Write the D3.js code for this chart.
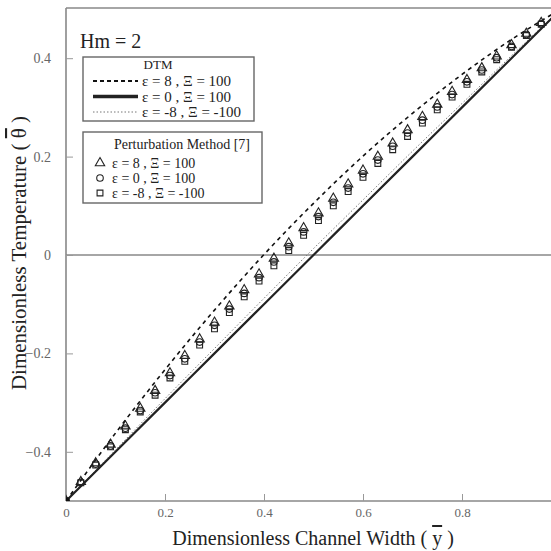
<!DOCTYPE html>
<html>
<head>
<meta charset="utf-8">
<script src="https://cdn.jsdelivr.net/npm/d3@7"></script>
<style>
  body { margin: 0; background: #fff; }
  text { font-family: "Liberation Serif", "DejaVu Serif", serif; fill: #222; }
</style>
</head>
<body>
<div id="chart"></div>
<script>
// DTM curves
var dtmX = [0, 0.1, 0.2, 0.3, 0.4, 0.5, 0.6, 0.7, 0.8, 0.9, 1.0];
var dtmPos = [-0.5, -0.362, -0.233, -0.112, 0.001, 0.105, 0.201, 0.288, 0.367, 0.438, 0.5];
var dtmZero = [-0.5, -0.4, -0.3, -0.2, -0.1, 0, 0.1, 0.2, 0.3, 0.4, 0.5];
var dtmNeg = [-0.5, -0.396, -0.292, -0.190, -0.088, 0.013, 0.112, 0.211, 0.308, 0.405, 0.5];

// perturbation method points
var pmX = [0, 0.03, 0.06, 0.09, 0.12, 0.15, 0.18, 0.21, 0.24, 0.27, 0.30, 0.33, 0.36, 0.39, 0.42, 0.45, 0.48,
  0.51, 0.54, 0.57, 0.60, 0.63, 0.66, 0.69, 0.72, 0.75, 0.78, 0.81, 0.84, 0.87, 0.90, 0.93, 0.96, 0.99];
var pmPos = [-0.5, -0.461, -0.423, -0.385, -0.348, -0.312, -0.276, -0.240, -0.205, -0.171, -0.137, -0.104,
  -0.071, -0.039, -0.007, 0.024, 0.055, 0.085, 0.115, 0.144, 0.172, 0.200, 0.227, 0.254, 0.281, 0.306,
  0.332, 0.356, 0.380, 0.404, 0.427, 0.450, 0.472, 0.493];
var pmZero = [-0.5, -0.462, -0.425, -0.388, -0.352, -0.316, -0.280, -0.245, -0.211, -0.177, -0.143, -0.110,
  -0.078, -0.046, -0.014, 0.017, 0.047, 0.078, 0.107, 0.136, 0.165, 0.193, 0.221, 0.248, 0.274, 0.301,
  0.326, 0.352, 0.376, 0.401, 0.424, 0.448, 0.470, 0.493];
var pmNeg = [-0.5, -0.463, -0.427, -0.390, -0.355, -0.319, -0.285, -0.250, -0.216, -0.183, -0.150, -0.117,
  -0.085, -0.053, -0.022, 0.009, 0.040, 0.070, 0.100, 0.129, 0.158, 0.186, 0.214, 0.241, 0.268, 0.295,
  0.321, 0.347, 0.372, 0.397, 0.422, 0.446, 0.469, 0.492];

var xTicks = [0, 0.2, 0.4, 0.6, 0.8];
var yTicks = [-0.4, -0.2, 0, 0.2, 0.4];
var dtmLabels = ["ε = 8 , Ξ = 100", "ε = 0 , Ξ = 100", "ε = -8 , Ξ = -100"];
var pmLabels = ["ε = 8 , Ξ = 100", "ε = 0 , Ξ = 100", "ε = -8 , Ξ = -100"];

var W = 551, H = 551;
var pL = 66, pT = 8, pB = 501, pR = 551;

var svg = d3.select("#chart").append("svg")
  .attr("width", W).attr("height", H);

var x = d3.scaleLinear().domain([0, 1]).range([pL, pL + 495]);
var y = d3.scaleLinear().domain([-0.5, 0.5]).range([pB, pT + 1]);

svg.append("clipPath").attr("id", "plotclip")
  .append("rect").attr("x", pL).attr("y", pT).attr("width", pR - pL).attr("height", pB - pT);

// frame
var frame = svg.append("g").attr("stroke", "#888").attr("stroke-width", 1.6);
frame.append("line").attr("x1", pL).attr("x2", pR).attr("y1", pT).attr("y2", pT);
frame.append("line").attr("x1", pL).attr("x2", pL).attr("y1", pT).attr("y2", pB);
frame.append("line").attr("x1", pL).attr("x2", pR).attr("y1", pB).attr("y2", pB);
frame.append("line").attr("x1", pL).attr("x2", pR).attr("y1", y(0)).attr("y2", y(0));

// axes
var fmt = function (d) { return d === 0 ? "0" : d3.format(".1f")(d); };

var xAxis = d3.axisBottom(x).tickValues(xTicks).tickSize(-7).tickPadding(7).tickFormat(fmt);
var gx = svg.append("g").attr("transform", "translate(0," + pB + ")").call(xAxis);
gx.select(".domain").remove();
gx.selectAll("line").attr("stroke", "#999");
gx.selectAll("text").style("font-size", "13px").style("fill", "#666")
  .style("font-family", "Liberation Serif, serif");

var yAxis = d3.axisLeft(y).tickValues(yTicks).tickSize(-7).tickPadding(15).tickFormat(fmt);
var gy = svg.append("g").attr("transform", "translate(" + pL + ",0)").call(yAxis);
gy.select(".domain").remove();
gy.selectAll("line").attr("stroke", "#999");
gy.selectAll("text").style("font-size", "14px").style("fill", "#666")
  .style("font-family", "Liberation Serif, serif");

// titles
var xt = svg.append("text").attr("x", 313).attr("y", 545).attr("text-anchor", "middle")
  .style("font-size", "20px");
xt.append("tspan").text("Dimensionless Channel Width ( ");
xt.append("tspan").style("text-decoration", "overline").text("y");
xt.append("tspan").text(" )");

var yt = svg.append("text").attr("transform", "translate(26,253) rotate(-90)").attr("text-anchor", "middle")
  .style("font-size", "21px");
yt.append("tspan").text("Dimensionless Temperature ( ");
yt.append("tspan").style("text-decoration", "overline").text("\u03B8");
yt.append("tspan").text(" )");

svg.append("text").attr("x", 80).attr("y", 48).style("font-size", "20px").text("Hm = 2");

// lines
var plot = svg.append("g").attr("clip-path", "url(#plotclip)");
var line = d3.line().curve(d3.curveMonotoneX)
  .x(function (d) { return x(d[0]); })
  .y(function (d) { return y(d[1]); });

plot.append("path").datum(d3.zip(dtmX, dtmNeg))
  .attr("d", line).attr("fill", "none").attr("stroke", "#777").attr("stroke-width", 1)
  .attr("stroke-dasharray", "1.5,2");
plot.append("path").datum(d3.zip(dtmX, dtmZero))
  .attr("d", line).attr("fill", "none").attr("stroke", "#222").attr("stroke-width", 2.2);
plot.append("path").datum(d3.zip(dtmX, dtmPos))
  .attr("d", line).attr("fill", "none").attr("stroke", "#111").attr("stroke-width", 1.6)
  .attr("stroke-dasharray", "4,4");

// markers
var sym = {
  tri: d3.symbol().type(d3.symbolTriangle).size(38),
  cir: d3.symbol().type(d3.symbolCircle).size(34),
  sq: d3.symbol().type(d3.symbolSquare).size(34)
};
var series = [[pmPos, "tri"], [pmZero, "cir"], [pmNeg, "sq"]];
series.forEach(function (s) {
  plot.selectAll(".m-" + s[1])
    .data(d3.zip(pmX, s[0])).enter()
    .append("path")
      .attr("class", "m-" + s[1])
      .attr("d", sym[s[1]])
      .attr("transform", function (d) { return "translate(" + x(d[0]) + "," + y(d[1]) + ")"; })
      .attr("fill", "none").attr("stroke", "#222").attr("stroke-width", 1.1);
});
plot.append("circle").attr("cx", x(0)).attr("cy", y(-0.5)).attr("r", 3.5).attr("fill", "#111");

// legend: DTM
var lg1 = svg.append("g");
lg1.append("rect").attr("x", 83).attr("y", 57).attr("width", 171).attr("height", 64)
  .attr("fill", "#fff").attr("stroke", "#666").attr("stroke-width", 1.4);
lg1.append("text").attr("x", 158).attr("y", 69).attr("text-anchor", "middle")
  .style("font-size", "13px").text("DTM");
var lgStyles = [
  {w: 1.8, dash: "4,3", c: "#111"},
  {w: 3.5, dash: null, c: "#222"},
  {w: 1, dash: "1.5,2", c: "#777"}
];
dtmLabels.forEach(function (t, i) {
  var yy = 81 + i * 15.5;
  lg1.append("line").attr("x1", 93).attr("x2", 138).attr("y1", yy).attr("y2", yy)
    .attr("stroke", lgStyles[i].c).attr("stroke-width", lgStyles[i].w)
    .attr("stroke-dasharray", lgStyles[i].dash);
  lg1.append("text").attr("x", 142).attr("y", yy + 5).style("font-size", "15px").text(t);
});

// legend: perturbation method
var lg2 = svg.append("g");
lg2.append("rect").attr("x", 83).attr("y", 132).attr("width", 179).attr("height", 71)
  .attr("fill", "#fff").attr("stroke", "#666").attr("stroke-width", 1.4);
lg2.append("text").attr("x", 182).attr("y", 149).attr("text-anchor", "middle")
  .style("font-size", "14px").text("Perturbation Method [7]");
var keys = ["tri", "cir", "sq"];
pmLabels.forEach(function (t, i) {
  var yy = 163 + i * 15;
  lg2.append("path").attr("d", sym[keys[i]])
    .attr("transform", "translate(100," + yy + ")")
    .attr("fill", "none").attr("stroke", "#222").attr("stroke-width", 1.1);
  lg2.append("text").attr("x", 112).attr("y", yy + 5).style("font-size", "14px").text(t);
});
</script>
</body>
</html>
